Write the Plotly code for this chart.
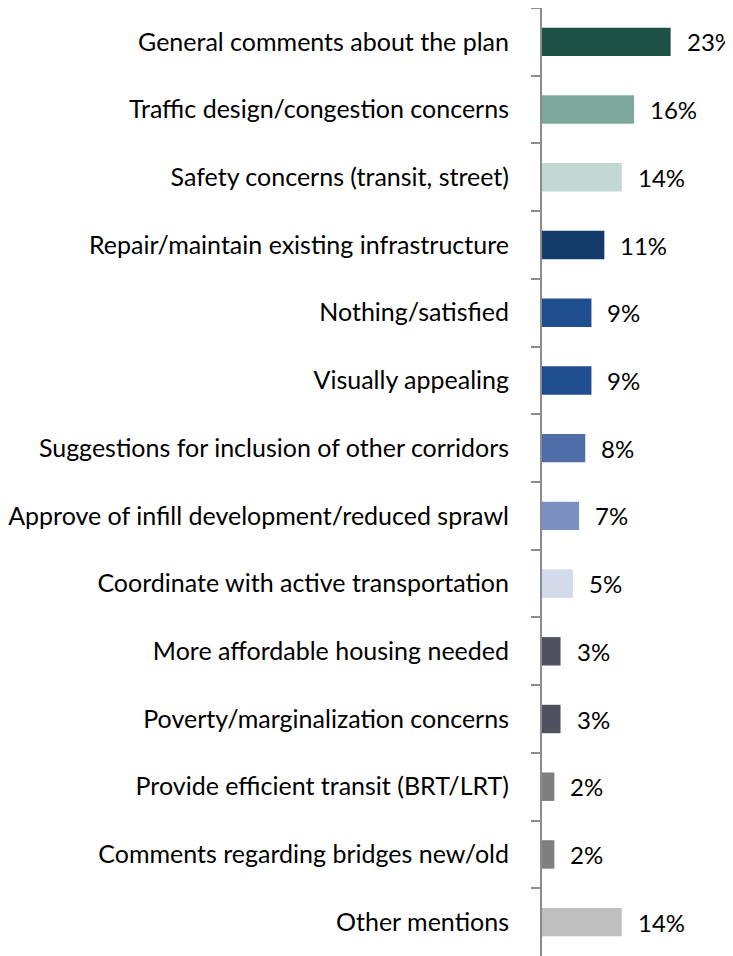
import plotly.graph_objects as go

categories = [
    "General comments about the plan",
    "Traffic design/congestion concerns",
    "Safety concerns (transit, street)",
    "Repair/maintain existing infrastructure",
    "Nothing/satisfied",
    "Visually appealing",
    "Suggestions for inclusion of other corridors",
    "Approve of infill development/reduced sprawl",
    "Coordinate with active transportation",
    "More affordable housing needed",
    "Poverty/marginalization concerns",
    "Provide efficient transit (BRT/LRT)",
    "Comments regarding bridges new/old",
    "Other mentions",
]
values = [22.9, 16.4, 14.2, 11.1, 8.8, 8.8, 7.7, 6.6, 5.5, 3.3, 3.3, 2.2, 2.2, 14.2]
value_labels = ["23%", "16%", "14%", "11%", "9%", "9%", "8%", "7%", "5%", "3%", "3%", "2%", "2%", "14%"]
colors = ["#1E5145", "#7FA89C", "#C3D7D3", "#133C6B", "#1F4E8F", "#1F4E8F", "#4F6DA8",
          "#7B90C0", "#D3DBEB", "#4D525E", "#4D525E", "#7F7F7F", "#7F7F7F", "#BFBFBF"]

FONT = "Lato, Calibri, Carlito, sans-serif"

fig = go.Figure(go.Bar(
    x=values, y=categories, orientation="h",
    marker=dict(color=colors, line=dict(width=0)),
    hoverinfo="skip",
))

for c, v, t in zip(categories, values, value_labels):
    fig.add_annotation(x=v, y=c, text=t, showarrow=False, xanchor="left",
                       xshift=14, font=dict(family=FONT, size=24, color="#000000"))

fig.update_layout(
    width=725, height=948,
    margin=dict(l=534, r=0, t=0, b=0),
    plot_bgcolor="white", paper_bgcolor="white",
    bargap=0.58, showlegend=False,
    font=dict(family=FONT, size=25, color="#000000"),
)
fig.update_xaxes(range=[0, 34.0], visible=False, fixedrange=True)
fig.update_yaxes(
    categoryorder="array", categoryarray=categories, autorange="reversed",
    showline=True, linecolor="#8C8C8C", linewidth=2,
    ticks="outside", tickson="boundaries", ticklen=9, tickwidth=2, tickcolor="#8C8C8C",
    ticklabelstandoff=26, showgrid=False, zeroline=False, automargin=False,
    tickfont=dict(family=FONT, size=25, color="#000000"),
)

fig.write_html("out.html")
